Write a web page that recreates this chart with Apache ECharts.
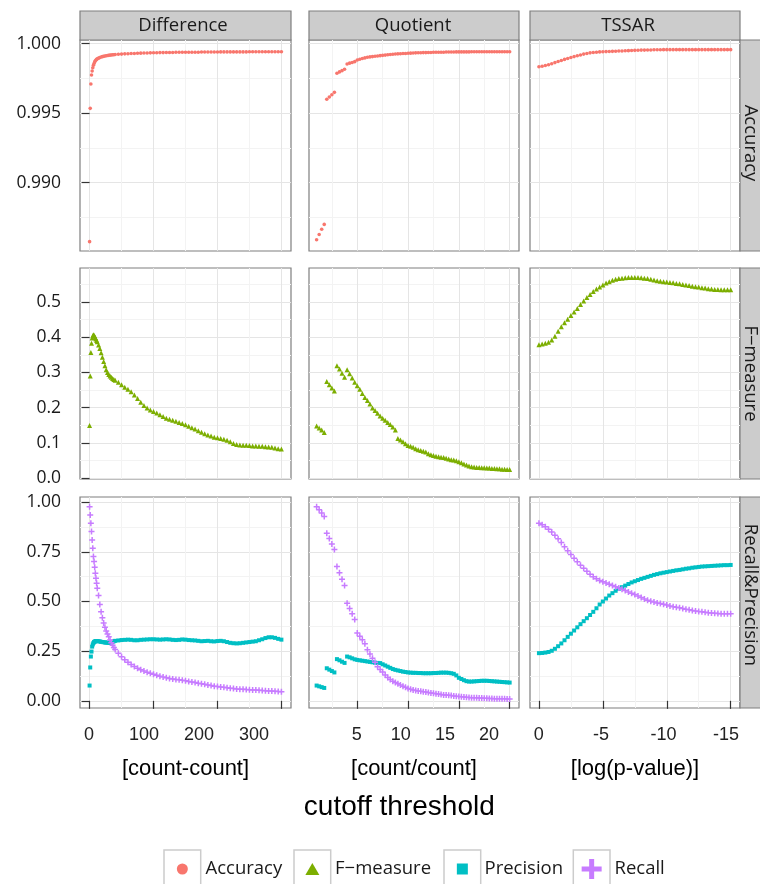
<!DOCTYPE html>
<html><head><meta charset="utf-8">
<script src="https://cdn.jsdelivr.net/npm/echarts@6/dist/echarts.min.js"></script>
<style>html,body{margin:0;padding:0;background:#fff}#chart{width:760px;height:884px}</style>
</head><body><div id="chart"></div>
<script>
// ---------------- data ----------------
const COLUMNS = ['Difference', 'Quotient', 'TSSAR'];
const ROWS = ['Accuracy', 'F\u2212measure', 'Recall&Precision'];
const X_TITLES = ['[count-count]', '[count/count]', '[log(p-value)]'];
const X_TICKS = [[0, 100, 200, 300], [5, 10, 15, 20], [0, -5, -10, -15]];
const X_MINOR = [[50, 150, 250], [2.5, 7.5, 12.5, 17.5], [-2.5, -7.5, -12.5]];
const Y_TICKS = [[0.990, 0.995, 1.000], [0, 0.1, 0.2, 0.3, 0.4, 0.5], [0, 0.25, 0.5, 0.75, 1]];
const Y_MINOR = [[0.9875, 0.9925, 0.9975], [0.05, 0.15, 0.25, 0.35, 0.45, 0.55], [0.125, 0.375, 0.625, 0.875]];
const Y_DEC = [3, 1, 2];

const DIFF_X = [0,1,2,3,4,5,6,7,8,9,10,11,12,14,16,18,20,22,24,26,28,30,32,34,36,38,40,45,50,55,60,65,70,75,80,85,90,95,100,105,110,115,120,125,130,135,140,145,150,155,160,165,170,175,180,185,190,195,200,205,210,215,220,225,230,235,240,245,250,255,260,265,270,275,280,285,290,295,300];
const DIFF_ACC = [0.98576,0.99535,0.99710,0.99775,0.99804,0.99827,0.99845,0.99858,0.99869,0.99877,0.99883,0.99887,0.99891,
 0.99896,0.99900,0.99904,0.99907,0.99909,0.99911,0.99913,0.99915,0.99916,0.99918,0.99919,0.99920,0.99921,0.99922,
 0.99924,0.99925,0.99927,0.99928,0.99929,0.99930,0.99931,0.99932,0.99933,0.99933,0.99934,0.99935,
 0.99935,0.99936,0.99936,0.99937,0.99937,0.99937,0.99938,0.99938,0.99938,0.99938,
 0.99939,0.99939,0.99939,0.99939,0.99940,0.99940,0.99940,0.99940,0.99940,0.99940,
 0.99941,0.99941,0.99941,0.99941,0.99941,0.99941,0.99941,0.99941,0.99941,0.99942,
 0.99942,0.99942,0.99942,0.99942,0.99942,0.99942,0.99942,0.99942,0.99942,0.99942];
const DIFF_F = [0.149,0.290,0.357,0.383,0.398,0.404,0.407,0.406,0.403,0.399,0.395,0.391,0.387,
 0.378,0.368,0.356,0.343,0.331,0.319,0.308,0.300,0.294,0.290,0.286,0.283,0.280,0.278,
 0.272,0.265,0.258,0.252,0.245,0.236,0.226,0.215,0.206,0.199,0.193,0.189,
 0.185,0.180,0.175,0.170,0.167,0.164,0.161,0.158,0.155,0.151,
 0.147,0.143,0.139,0.134,0.130,0.126,0.122,0.119,0.116,0.114,
 0.112,0.110,0.107,0.103,0.098,0.095,0.094,0.093,0.093,0.092,
 0.091,0.091,0.090,0.090,0.089,0.088,0.087,0.085,0.083,0.082];
const DIFF_PREC = [0.077,0.168,0.223,0.248,0.273,0.284,0.291,0.296,0.298,0.300,0.301,0.301,0.301,
 0.300,0.299,0.297,0.296,0.295,0.294,0.293,0.293,0.292,0.292,0.294,0.297,0.300,0.302,
 0.304,0.306,0.307,0.308,0.307,0.305,0.305,0.307,0.308,0.309,0.310,0.310,
 0.309,0.308,0.309,0.310,0.309,0.307,0.306,0.307,0.309,0.308,
 0.306,0.305,0.304,0.302,0.300,0.301,0.302,0.300,0.299,0.301,
 0.302,0.300,0.296,0.292,0.290,0.289,0.290,0.292,0.294,0.296,
 0.298,0.300,0.305,0.310,0.316,0.320,0.320,0.317,0.312,0.308];
const DIFF_REC = [0.977,0.936,0.894,0.852,0.810,0.768,0.726,0.701,0.672,0.642,0.617,0.592,0.567,
 0.530,0.485,0.448,0.418,0.392,0.370,0.352,0.336,0.322,0.306,0.292,0.280,0.268,0.258,
 0.240,0.222,0.207,0.194,0.183,0.173,0.164,0.157,0.150,0.144,0.139,0.134,
 0.129,0.124,0.120,0.116,0.113,0.110,0.108,0.106,0.104,0.101,
 0.098,0.095,0.092,0.089,0.086,0.083,0.080,0.077,0.074,0.072,
 0.070,0.068,0.066,0.064,0.062,0.060,0.059,0.058,0.057,0.056,
 0.055,0.054,0.053,0.052,0.051,0.050,0.049,0.048,0.047,0.046];

const QUOT_X = [1,1.25,1.5,1.75,2,2.25,2.5,2.75,3,3.25,3.5,3.75,4,4.25,4.5,4.75,5,5.25,5.5,5.75,6,6.25,6.5,6.75,7,7.25,7.5,7.75,8,8.25,8.5,8.75,9,9.25,9.5,9.75,10,10.25,10.5,10.75,11,11.25,11.5,11.75,12,12.25,12.5,12.75,13,13.25,13.5,13.75,14,14.25,14.5,14.75,15,15.25,15.5,15.75,16,16.25,16.5,16.75,17,17.25,17.5,17.75,18,18.25,18.5,18.75,19,19.25,19.5,19.75,20];
const QUOT_ACC = [0.98590,0.98627,0.98665,0.98700,
 0.99600,0.99617,0.99633,0.99650,
 0.99787,0.99797,0.99806,0.99816,
 0.99854,0.99860,0.99865,0.99871,
 0.99883,0.99888,0.99893,0.99898,
 0.99902,0.99905,0.99907,0.99910,
 0.99912,0.99914,0.99916,0.99918,
 0.99920,0.99922,0.99924,0.99926,
 0.99927,0.99928,0.99929,0.99930,
 0.99931,0.99932,0.99933,0.99934,
 0.99935,0.99935,0.99936,0.99936,
 0.99937,0.99937,0.99938,0.99938,
 0.99939,0.99939,0.99939,0.99940,
 0.99940,0.99940,0.99940,0.99941,
 0.99941,0.99941,0.99941,0.99941,
 0.99941,0.99942,0.99942,0.99942,0.99942,0.99942,0.99942,0.99942,0.99942,0.99942,0.99942,0.99942,0.99942,0.99942,0.99942,0.99942,0.99942];
const QUOT_F = [0.148,0.142,0.136,0.129,
 0.274,0.265,0.256,0.247,
 0.319,0.310,0.298,0.286,
 0.308,0.296,0.284,0.272,
 0.262,0.252,0.240,0.229,
 0.220,0.210,0.199,0.192,
 0.184,0.176,0.170,0.164,
 0.158,0.152,0.145,0.136,
 0.112,0.108,0.103,0.097,
 0.092,0.090,0.087,0.083,
 0.080,0.078,0.076,0.074,
 0.069,0.066,0.064,0.062,
 0.060,0.059,0.058,0.056,
 0.054,0.052,0.051,0.049,
 0.046,0.043,0.040,0.037,
 0.034,0.032,0.031,0.030,0.030,0.029,0.029,0.028,0.028,0.027,0.027,0.026,0.026,0.025,0.025,0.024,0.024];
const QUOT_PREC = [0.077,0.073,0.069,0.065,
 0.164,0.157,0.150,0.143,
 0.210,0.204,0.197,0.191,
 0.223,0.219,0.214,0.209,
 0.206,0.204,0.202,0.200,
 0.198,0.196,0.194,0.192,
 0.191,0.190,0.184,0.178,
 0.172,0.166,0.160,0.156,
 0.153,0.150,0.147,0.145,
 0.143,0.142,0.141,0.141,
 0.140,0.140,0.139,0.139,
 0.139,0.139,0.140,0.140,
 0.141,0.142,0.142,0.142,
 0.141,0.139,0.136,0.128,
 0.116,0.110,0.104,0.099,
 0.097,0.097,0.098,0.099,0.100,0.101,0.101,0.101,0.100,0.099,0.098,0.097,0.096,0.095,0.094,0.093,0.092];
const QUOT_REC = [0.977,0.962,0.946,0.928,
 0.844,0.817,0.789,0.762,
 0.676,0.645,0.612,0.580,
 0.491,0.465,0.438,0.410,
 0.341,0.325,0.307,0.288,
 0.257,0.236,0.215,0.194,
 0.172,0.158,0.145,0.130,
 0.118,0.108,0.099,0.092,
 0.086,0.080,0.074,0.068,
 0.062,0.058,0.055,0.052,
 0.050,0.048,0.046,0.044,
 0.042,0.040,0.038,0.036,
 0.034,0.032,0.030,0.029,
 0.028,0.027,0.025,0.023,
 0.022,0.021,0.019,0.018,
 0.017,0.016,0.016,0.015,0.014,0.014,0.013,0.013,0.012,0.012,0.011,0.011,0.010,0.010,0.010,0.009,0.009];

const TSSAR_X = [0,-0.25,-0.5,-0.75,-1,-1.25,-1.5,-1.75,-2,-2.25,-2.5,-2.75,-3,-3.25,-3.5,-3.75,-4,-4.25,-4.5,-4.75,-5,-5.25,-5.5,-5.75,-6,-6.25,-6.5,-6.75,-7,-7.25,-7.5,-7.75,-8,-8.25,-8.5,-8.75,-9,-9.25,-9.5,-9.75,-10,-10.25,-10.5,-10.75,-11,-11.25,-11.5,-11.75,-12,-12.25,-12.5,-12.75,-13,-13.25,-13.5,-13.75,-14,-14.25,-14.5,-14.75,-15];
const TSSAR_ACC = [0.99834,0.99838,0.99843,0.99849,0.99856,0.99864,0.99872,0.99879,0.99887,0.99894,
 0.99901,0.99907,0.99913,0.99919,0.99925,0.99930,0.99934,0.99937,0.99939,0.99941,
 0.99942,0.99943,0.99944,0.99945,0.99946,0.99947,0.99948,0.99949,0.99950,0.99951,
 0.99952,0.99953,0.99954,0.99954,0.99955,0.99955,0.99956,0.99956,0.99956,0.99957,
 0.99957,0.99957,0.99957,0.99957,0.99957,0.99957,0.99957,0.99957,0.99957,0.99957,
 0.99957,0.99957,0.99957,0.99957,0.99957,0.99957,0.99957,0.99957,0.99957,0.99957,
 0.99957];
const TSSAR_F = [0.379,0.381,0.383,0.386,0.392,0.403,0.417,0.430,0.441,0.451,
 0.462,0.472,0.482,0.493,0.503,0.513,0.522,0.530,0.537,0.543,
 0.549,0.554,0.558,0.562,0.565,0.567,0.568,0.569,0.570,0.570,
 0.570,0.570,0.569,0.568,0.567,0.565,0.563,0.561,0.559,0.558,
 0.557,0.556,0.555,0.553,0.552,0.550,0.549,0.547,0.545,0.544,
 0.543,0.541,0.540,0.538,0.537,0.536,0.536,0.535,0.535,0.535,
 0.535];
const TSSAR_PREC = [0.240,0.241,0.243,0.246,0.252,0.262,0.275,0.289,0.305,0.322,
 0.338,0.354,0.370,0.386,0.401,0.416,0.432,0.448,0.466,0.485,
 0.500,0.515,0.530,0.542,0.554,0.564,0.572,0.580,0.588,0.596,
 0.602,0.608,0.614,0.619,0.624,0.629,0.634,0.638,0.642,0.645,
 0.648,0.651,0.654,0.657,0.659,0.662,0.665,0.667,0.670,0.672,
 0.674,0.676,0.677,0.678,0.679,0.680,0.681,0.682,0.683,0.683,
 0.684];
const TSSAR_REC = [0.894,0.886,0.876,0.864,0.850,0.834,0.816,0.797,0.775,0.755,
 0.737,0.718,0.700,0.683,0.667,0.652,0.637,0.624,0.614,0.606,
 0.599,0.593,0.587,0.581,0.574,0.568,0.562,0.555,0.548,0.542,
 0.535,0.528,0.520,0.512,0.506,0.501,0.497,0.493,0.490,0.486,
 0.482,0.478,0.474,0.471,0.468,0.465,0.461,0.458,0.455,0.452,
 0.450,0.448,0.446,0.444,0.442,0.441,0.440,0.439,0.439,0.438,
 0.438];

// ---------------- layout / style ----------------
const COL_L = [80, 309, 530], COL_W = [211, 210, 210];
const ROW_T = [40, 268, 497], ROW_H = 211;
const X_MIN = [-15, 0.25, -15.73], X_MAX = [315, 20.92, 0.70];
const XL_MIN = [-16.36, -0.41, -16.13], XL_MAX = [367.3, 23.40, 0.697];
const Y_MIN = [0.985086, -0.003, -0.036], Y_MAX = [1.000266, 0.597, 1.026];
const MAJOR = '#e5e5e5', MINOR = '#f3f3f3', BORDER = '#7f7f7f';
const PLUS = 'path://M3,0H5V3H8V5H5V8H3V5H0V3H3Z';
const STYLE = {
  'Accuracy': {color: '#F8766D', symbol: 'circle', size: 3.6, icon: 'circle', iw: 11, ih: 11},
  'F\u2212measure': {color: '#7CAE00', symbol: 'triangle', size: 5, icon: 'path://M7,0L14,12H0Z', iw: 14, ih: 12},
  'Precision': {color: '#00BFC4', symbol: 'rect', size: 4, icon: 'path://M0,0H10V10H0Z', iw: 11, ih: 11},
  'Recall': {color: '#C77CFF', symbol: PLUS, size: 6, icon: PLUS, iw: 20, ih: 20}
};
const COL_DATA = [
  {X: DIFF_X, acc: DIFF_ACC, f: DIFF_F, prec: DIFF_PREC, rec: DIFF_REC},
  {X: QUOT_X, acc: QUOT_ACC, f: QUOT_F, prec: QUOT_PREC, rec: QUOT_REC},
  {X: TSSAR_X, acc: TSSAR_ACC, f: TSSAR_F, prec: TSSAR_PREC, rec: TSSAR_REC}
];

const grids = [], xAxes = [], yAxes = [], series = [], graphics = [];
for (let r = 0; r < 3; r++) {
  for (let c = 0; c < 3; c++) {
    const g = r * 3 + c;
    grids.push({left: COL_L[c], top: ROW_T[r], width: COL_W[c], height: ROW_H, show: true,
      backgroundColor: '#fff', borderColor: BORDER, borderWidth: 1.2, containLabel: false, outerBoundsMode: 'none'});
    xAxes[g] = {type: 'value', gridIndex: g, position: 'bottom', min: X_MIN[c], max: X_MAX[c], inverse: c === 2,
      axisLine: {show: false},
      axisTick: {show: r === 2, customValues: X_TICKS[c], length: 8, lineStyle: {color: '#333', width: 1.2}},
      axisLabel: {show: false},
      splitLine: {show: true, lineStyle: {color: MAJOR, width: 1}},
      name: r === 2 ? X_TITLES[c] : '', nameLocation: 'middle', nameGap: 50,
      nameTextStyle: {fontFamily: 'Liberation Sans', fontSize: 22, color: '#000'}};
    xAxes[9 + g] = {type: 'value', gridIndex: g, position: 'top', min: X_MIN[c], max: X_MAX[c], inverse: c === 2,
      axisLine: {show: false}, axisTick: {show: false, customValues: X_MINOR[c]}, axisLabel: {show: false},
      splitLine: {show: true, lineStyle: {color: MINOR, width: 1}}};
    yAxes[g] = {type: 'value', gridIndex: g, position: 'left', min: Y_MIN[r], max: Y_MAX[r],
      axisLine: {show: false},
      axisTick: {show: c === 0, customValues: Y_TICKS[r], length: 8, lineStyle: {color: '#333', width: 1.2}},
      axisLabel: {show: c === 0, customValues: Y_TICKS[r], margin: 19, fontFamily: 'Open Sans', fontSize: 17.5,
        color: '#1a1a1a', formatter: (v) => Number(v).toFixed(Y_DEC[r])},
      splitLine: {show: true, lineStyle: {color: MAJOR, width: 1}}};
    yAxes[9 + g] = {type: 'value', gridIndex: g, position: 'right', min: Y_MIN[r], max: Y_MAX[r],
      axisLine: {show: false}, axisTick: {show: false, customValues: Y_MINOR[r]}, axisLabel: {show: false},
      splitLine: {show: true, lineStyle: {color: MINOR, width: 1}}};

    const d = COL_DATA[c];
    const sets = r === 0 ? [['Accuracy', d.acc]] : r === 1 ? [['F\u2212measure', d.f]] : [['Precision', d.prec], ['Recall', d.rec]];
    sets.forEach(([name, Y]) => {
      const st = STYLE[name];
      series.push({type: 'scatter', name: name, xAxisIndex: g, yAxisIndex: g,
        data: d.X.map((x, i) => [x, Y[i]]), symbol: st.symbol, symbolSize: st.size,
        itemStyle: {color: st.color, opacity: 1}, emphasis: {disabled: true}, silent: true, z: 3});
    });
  }
}
// bottom-row tick labels
for (let c = 0; c < 3; c++) {
  xAxes[18 + c] = {type: 'value', gridIndex: 6 + c, position: 'bottom', min: XL_MIN[c], max: XL_MAX[c], inverse: c === 2,
    axisLine: {show: false}, axisTick: {show: false}, splitLine: {show: false},
    axisLabel: {show: true, customValues: X_TICKS[c], margin: 18, fontFamily: 'Liberation Sans', fontSize: 18, color: '#222'}};
}

// facet strips
const STRIP_TX = [183, 413, 628];
COLUMNS.forEach((name, c) => {
  graphics.push({type: 'rect', silent: true, shape: {x: COL_L[c], y: 11, width: COL_W[c], height: 29},
    style: {fill: '#cccccc', stroke: BORDER, lineWidth: 1.2}});
  graphics.push({type: 'text', silent: true, x: STRIP_TX[c], y: 26,
    style: {text: name, fill: '#1a1a1a', font: '18.5px "Open Sans"', align: 'center', verticalAlign: 'middle',
      textAlign: 'center', textVerticalAlign: 'middle'}});
});
const STRIP_TY = [143, 373.5, 595];
ROWS.forEach((name, r) => {
  graphics.push({type: 'rect', silent: true, shape: {x: 740, y: ROW_T[r], width: 24, height: ROW_H},
    style: {fill: '#cccccc', stroke: BORDER, lineWidth: 1.2}});
  graphics.push({type: 'text', silent: true, x: 750.5, y: STRIP_TY[r], rotation: -Math.PI / 2,
    style: {text: name, fill: '#1a1a1a', font: '18.5px "Open Sans"', align: 'center', verticalAlign: 'middle',
      textAlign: 'center', textVerticalAlign: 'middle'}});
});
graphics.push({type: 'text', silent: true, x: 399.3, y: 807,
  style: {text: 'cutoff threshold', fill: '#000', font: '28px "Liberation Sans"', align: 'center', verticalAlign: 'middle',
    textAlign: 'center', textVerticalAlign: 'middle'}});

// legend with key boxes
const LEG_NAMES = ['Accuracy', 'F\u2212measure', 'Precision', 'Recall'];
const KEY_LEFT = [164, 294, 444, 573.3], KEY_W = 36.7;
const LEG_TEXT_X = [205.5, 335, 484.5, 614.5];
const legends = LEG_NAMES.map((name, i) => {
  graphics.push({type: 'rect', silent: true, z: -1, shape: {x: KEY_LEFT[i], y: 850, width: KEY_W, height: 37},
    style: {fill: '#fff', stroke: '#cccccc', lineWidth: 1.5}});
  const st = STYLE[name];
  const left = KEY_LEFT[i] + KEY_W / 2 - st.iw / 2;
  const gap = Math.max(0, LEG_TEXT_X[i] - (left + st.iw + 5));
  return {data: [{name: name, icon: st.icon}], left: left, top: 859, padding: 0, orient: 'horizontal',
    itemWidth: st.iw, itemHeight: st.ih, selectedMode: false, symbolKeepAspect: true,
    formatter: '{g|}{t|{name}}',
    textStyle: {fontFamily: 'Open Sans', fontSize: 18.5, lineHeight: 20, color: '#1a1a1a',
      rich: {g: {width: gap, height: 20}, t: {fontFamily: 'Open Sans', fontSize: 18.5, lineHeight: 20, color: '#1a1a1a'}}}};
});

const chart = echarts.init(document.getElementById('chart'), null, {renderer: 'canvas'});
chart.setOption({
  animation: false,
  backgroundColor: '#fff',
  textStyle: {fontFamily: 'Open Sans'},
  grid: grids, xAxis: xAxes, yAxis: yAxes, series: series,
  legend: legends, graphic: {elements: graphics}
});
</script></body></html>
